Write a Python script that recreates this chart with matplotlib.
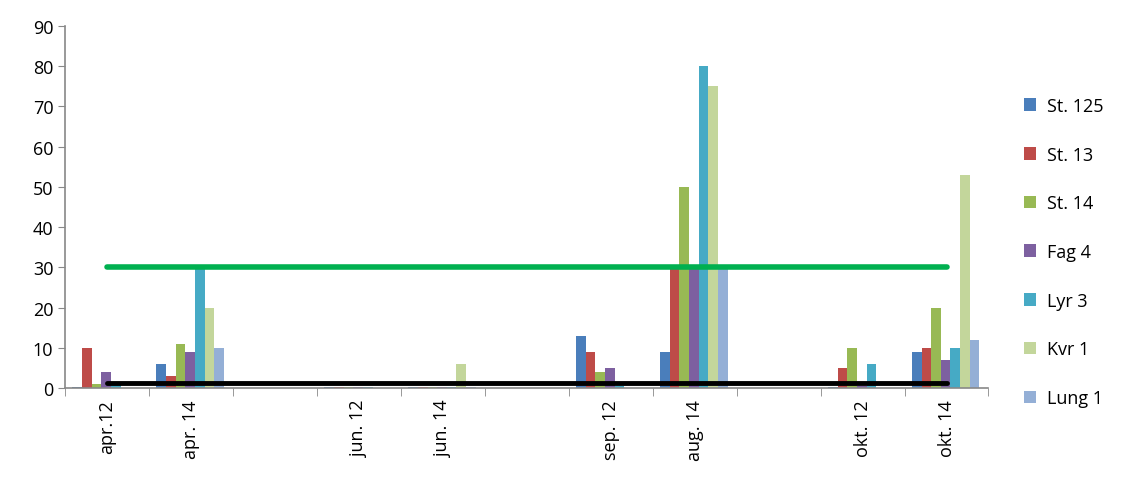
import numpy as np
import matplotlib.pyplot as plt

plt.rcParams['font.family'] = ['Open Sans', 'DejaVu Sans']

# kategorier (tomme plasser mellom periodene)
categories = ['apr.12', 'apr. 14', '', 'jun. 12', 'jun. 14', '', 'sep. 12', 'aug. 14', '', 'okt. 12', 'okt. 14']

series_names = ['St. 125', 'St. 13', 'St. 14', 'Fag 4', 'Lyr 3', 'Kvr 1', 'Lung 1']
st125 = [0.4, 6, 0, 0.4, 0.4, 0, 13, 9, 0, 0.3, 9]
st13 = [10, 3, 0, 0.4, 0.4, 0, 9, 30, 0, 5, 10]
st14 = [1, 11, 0, 0.4, 0.4, 0, 4, 50, 0, 10, 20]
fag4 = [4, 9, 0, 0.4, 0.4, 0, 5, 30, 0, 0.5, 7]
lyr3 = [1, 30, 0, 0.4, 0.4, 0, 0.5, 80, 0, 6, 10]
kvr1 = [0, 20, 0, 0, 6, 0, 0, 75, 0, 0, 53]
lung1 = [0, 10, 0, 0, 0.4, 0, 0, 30, 0, 0, 12]

limit_high = 30
limit_low = 1.2

colors = ['#4A7EBB', '#BE4B48', '#98B954', '#7D60A0', '#46AAC5', '#C3D69B', '#94AFD6']
values = [st125, st13, st14, fag4, lyr3, kvr1, lung1]

fig = plt.figure(figsize=(11.22, 4.81), dpi=100)
ax = fig.add_axes([0.058, 0.191, 0.823, 0.753])

x = np.arange(len(categories))
w = 0.115
for i, (name, vals) in enumerate(zip(series_names, values)):
    ax.bar(x + (i - 3) * w - 0.01, vals, width=w, color=colors[i], label=name)

ax.plot([x[0], x[-1]], [limit_high, limit_high], color='#00B050', lw=4, solid_capstyle='round')
ax.plot([x[0], x[-1]], [limit_low, limit_low], color='black', lw=3.5, solid_capstyle='round')

ax.set_xlim(-0.5, len(categories) - 0.5)
ax.set_ylim(0, 90)
ax.set_yticks(range(0, 91, 10))
ax.set_xticks(x)
ax.set_xticklabels(categories, rotation=90, fontsize=13)
ax.set_xticks(np.arange(-0.5, len(categories), 1), minor=True)
ax.tick_params(axis='x', which='major', length=0, pad=8)
ax.tick_params(axis='x', which='minor', length=6, color='#888888', direction='out')
ax.tick_params(axis='y', length=5, color='#888888', labelsize=13)
for s in ['top', 'right']:
    ax.spines[s].set_visible(False)
for s in ['left', 'bottom']:
    ax.spines[s].set_color('#888888')
    ax.spines[s].set_linewidth(1.2)

handles, labels = ax.get_legend_handles_labels()
fig.legend(handles, labels, loc='upper left', bbox_to_anchor=(0.898, 0.83),
           frameon=False, fontsize=13, handlelength=0.7, handleheight=0.7,
           labelspacing=1.7, handletextpad=0.6)

fig.savefig('out.png', dpi=100)
